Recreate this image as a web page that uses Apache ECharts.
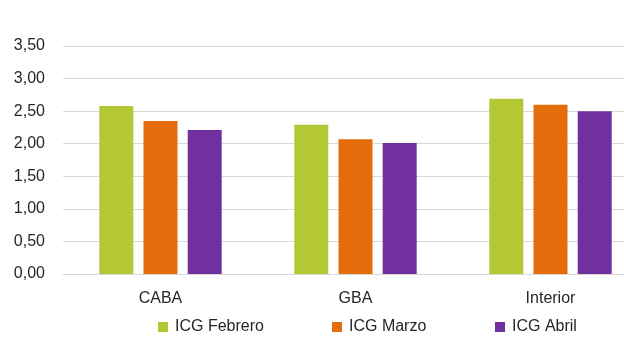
<!DOCTYPE html>
<html>
<head>
<meta charset="utf-8">
<script src="https://cdn.jsdelivr.net/npm/echarts@6/dist/echarts.min.js"></script>
<style>html,body{margin:0;padding:0;background:#fff;}#c{width:624px;height:351px;}</style>
</head>
<body>
<div id="c"></div>
<script>
const categories = ['CABA', 'GBA', 'Interior'];
const seriesNames = ['ICG Febrero', 'ICG Marzo', 'ICG Abril'];
const febrero = [2.58, 2.29, 2.69];
const marzo = [2.35, 2.07, 2.60];
const abril = [2.21, 2.01, 2.50];
const colors = ['#B3C834', '#E46C0A', '#7030A0'];
const values = [febrero, marzo, abril];

const chart = echarts.init(document.getElementById('c'));
const font = 'Liberation Sans, Arial, sans-serif';
const legendLefts = [153, 327, 490];
chart.setOption({
  animation: false,
  grid: { left: 63, top: 46, width: 585, bottom: 77, containLabel: false, outerBoundsMode: 'none' },
  xAxis: {
    type: 'category',
    data: categories,
    axisLine: { show: true, lineStyle: { color: '#D9D9D9', width: 1 } },
    axisTick: { show: false },
    axisLabel: { color: '#262626', fontSize: 16, fontFamily: font, margin: 17 }
  },
  yAxis: {
    type: 'value',
    min: 0, max: 3.5, interval: 0.5,
    axisLine: { show: false },
    axisTick: { show: false },
    splitLine: { lineStyle: { color: '#D9D9D9', width: 1 } },
    axisLabel: {
      color: '#262626', fontSize: 16, fontFamily: font, margin: 18,
      formatter: v => v.toFixed(2).replace('.', ',')
    }
  },
  legend: seriesNames.map((n, i) => ({
    data: [n], left: legendLefts[i], top: 314,
    icon: 'rect', itemWidth: 10, itemHeight: 10, itemGap: 0,
    textStyle: { color: '#262626', fontSize: 16, fontFamily: font, padding: [0, 0, 0, 2] }
  })),
  series: seriesNames.map((n, i) => ({
    name: n, type: 'bar', data: values[i],
    barWidth: 34, barGap: '30%',
    itemStyle: { color: colors[i] }
  }))
});
</script>
</body>
</html>
